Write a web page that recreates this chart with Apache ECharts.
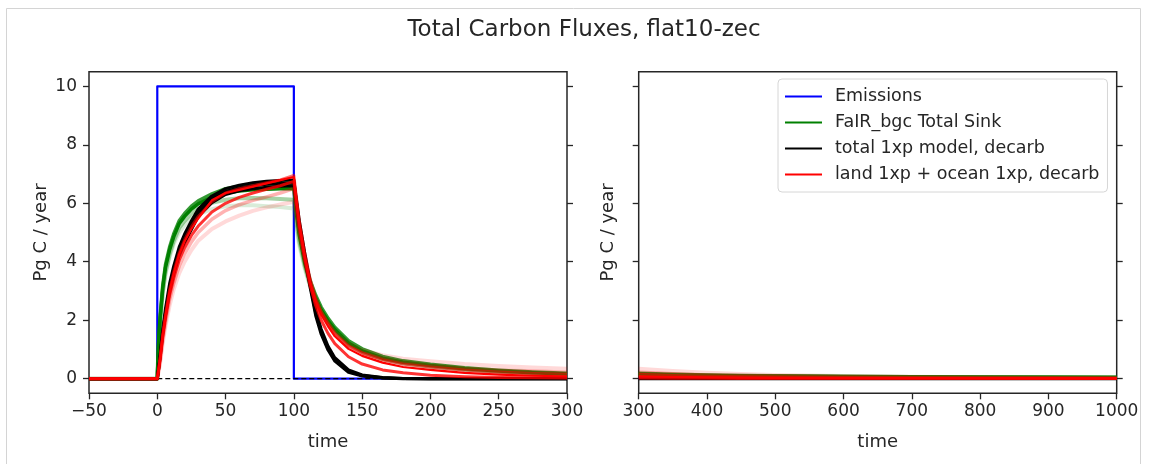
<!DOCTYPE html>
<html>
<head>
<meta charset="utf-8">
<script src="https://cdn.jsdelivr.net/npm/echarts@6/dist/echarts.min.js"></script>
<style>
html,body{margin:0;padding:0;background:#fff;}
#chart{width:1149px;height:464px;}
</style>
</head>
<body>
<div id="chart"></div>
<script>
// ---------- data ----------
const TITLE = 'Total Carbon Fluxes, flat10-zec';
const Y_TICKS = [0, 2, 4, 6, 8, 10];

// emissions step
const EMIS_T = [-50, 0, 0, 100, 100, 300];
const EMIS_V = [0, 0, 10, 10, 0, 0];
const EMIS_T_R = [300, 1000];
const EMIS_V_R = [0, 0];

// time grids
const T_LEFT = [-50, 0, 1, 2, 4, 6, 9, 12, 16, 20, 25, 30, 40, 50, 60, 70, 80, 90, 100, 102, 104, 108, 112, 116, 120, 125, 130, 140, 150, 165, 180, 200, 225, 250, 275, 300];
const T_RIGHT = [300, 350, 400, 450, 500, 600, 700, 800, 900, 1000];

// FaIR_bgc total sink ensemble (left panel)
const green1 = [0,0,1.2,2.0,3.1,3.8,4.4,4.85,5.3,5.55,5.8,5.98,6.2,6.35,6.42,6.46,6.48,6.5,6.5,5.6,4.9,3.95,3.25,2.75,2.35,1.98,1.68,1.22,0.95,0.7,0.56,0.45,0.34,0.26,0.2,0.16];
const green2 = [0,0,1.3,2.1,3.2,3.9,4.5,4.95,5.4,5.65,5.9,6.08,6.32,6.5,6.58,6.63,6.66,6.68,6.7,5.75,5.0,4.05,3.35,2.85,2.45,2.07,1.76,1.3,1.02,0.76,0.61,0.49,0.37,0.29,0.23,0.19];
const green3 = [0,0,1.15,1.9,2.95,3.65,4.25,4.7,5.15,5.4,5.65,5.82,6.02,6.12,6.17,6.18,6.17,6.15,6.12,5.3,4.7,3.85,3.2,2.7,2.3,1.93,1.63,1.18,0.92,0.67,0.53,0.42,0.31,0.24,0.18,0.14];
const green4 = [0,0,1.1,1.85,2.9,3.55,4.15,4.6,5.0,5.25,5.48,5.62,5.8,5.9,5.93,5.93,5.9,5.87,5.82,5.1,4.55,3.75,3.12,2.65,2.27,1.9,1.6,1.16,0.9,0.66,0.52,0.41,0.3,0.23,0.18,0.14];

// total 1xp model, decarb (left panel)
const black1 = [0,0,0.35,0.74,1.6,2.25,3.1,3.7,4.35,4.8,5.25,5.68,6.15,6.4,6.53,6.6,6.65,6.68,6.7,6.0,5.3,4.2,3.2,2.25,1.6,1.05,0.65,0.26,0.11,0.03,0.01,0,0,0,0,0];
const black2 = [0,0,0.38,0.8,1.7,2.4,3.25,3.85,4.5,4.95,5.4,5.8,6.25,6.5,6.62,6.7,6.75,6.78,6.8,6.1,5.4,4.3,3.3,2.35,1.7,1.12,0.72,0.3,0.13,0.04,0.01,0,0,0,0,0];
const black3 = [0,0,0.32,0.68,1.5,2.15,2.95,3.55,4.2,4.65,5.1,5.55,6.02,6.3,6.43,6.5,6.55,6.58,6.6,5.9,5.2,4.1,3.1,2.15,1.52,0.98,0.6,0.22,0.09,0.02,0,0,0,0,0,0];

// land 1xp + ocean 1xp, decarb (left panel)
const red1 = [0,0,0.3,0.65,1.5,2.15,3.0,3.6,4.25,4.7,5.12,5.48,6.1,6.35,6.46,6.57,6.68,6.79,6.9,6.1,5.3,4.2,3.3,2.65,2.2,1.8,1.45,1.02,0.78,0.55,0.4,0.3,0.2,0.14,0.1,0.08];
const red2 = [0,0,0.33,0.7,1.55,2.2,3.05,3.65,4.3,4.75,5.2,5.55,6.05,6.35,6.5,6.6,6.7,6.8,6.95,6.15,5.4,4.3,3.4,2.75,2.3,1.9,1.55,1.12,0.88,0.65,0.5,0.4,0.3,0.23,0.18,0.15];
const red3 = [0,0,0.27,0.56,1.32,1.92,2.7,3.25,3.85,4.27,4.68,5.0,5.45,5.75,5.95,6.1,6.22,6.35,6.5,5.75,5.05,4.05,3.2,2.62,2.2,1.82,1.5,1.1,0.88,0.68,0.55,0.45,0.36,0.3,0.26,0.22];
const red4 = [0,0,0.24,0.5,1.2,1.8,2.5,3.05,3.6,4.0,4.4,4.72,5.12,5.38,5.58,5.74,5.86,5.96,6.05,5.45,4.9,3.95,3.2,2.65,2.25,1.9,1.6,1.2,0.98,0.8,0.68,0.6,0.5,0.43,0.38,0.34];
const red5 = [0,0,0.3,0.62,1.42,2.05,2.85,3.42,4.05,4.48,4.9,5.22,5.7,6.0,6.2,6.35,6.48,6.6,6.75,5.95,5.2,4.1,3.2,2.5,2.0,1.55,1.2,0.75,0.5,0.3,0.2,0.12,0.07,0.04,0.03,0.02];

// right panel tails
const green1R = [0.16,0.13,0.11,0.095,0.085,0.07,0.06,0.05,0.045,0.04];
const green2R = [0.19,0.155,0.13,0.11,0.1,0.08,0.068,0.058,0.05,0.045];
const green3R = [0.14,0.115,0.1,0.088,0.078,0.064,0.054,0.046,0.04,0.035];
const green4R = [0.14,0.11,0.095,0.083,0.074,0.06,0.05,0.043,0.037,0.033];
const blackR  = [0,0,0,0,0,0,0,0,0,0];
const red1R = [0.08,0.06,0.045,0.035,0.03,0.022,0.017,0.014,0.012,0.01];
const red2R = [0.15,0.11,0.085,0.07,0.058,0.042,0.032,0.026,0.022,0.019];
const red3R = [0.22,0.17,0.13,0.105,0.088,0.063,0.048,0.038,0.031,0.026];
const red4R = [0.34,0.26,0.2,0.16,0.13,0.09,0.067,0.052,0.042,0.035];
const red5R = [0.02,0.015,0.012,0.01,0.008,0.006,0.005,0.004,0.003,0.003];

const NAMES = ['Emissions', 'FaIR_bgc Total Sink', 'total 1xp model, decarb', 'land 1xp + ocean 1xp, decarb'];
const COLORS = ['#0000ff', '#008000', '#000000', '#ff0000'];

// ---------- build ----------
const TXT = '#262626';
const FONT = "'DejaVu Sans', sans-serif";

function pairs(ts, vs) { return ts.map((t, i) => [t, vs[i]]); }

function lineSeries(name, color, data, panel, opts) {
  opts = opts || {};
  return {
    type: 'line', name: name, data: data,
    xAxisIndex: panel, yAxisIndex: panel * 2,
    symbol: 'none', animation: false, silent: true,
    color: color,
    lineStyle: { color: color, width: opts.width || 2, opacity: opts.opacity == null ? 1 : opts.opacity, type: opts.type || 'solid', join: 'round' },
    z: opts.z || 2
  };
}

const series = [];
// emissions
series.push(lineSeries(NAMES[0], COLORS[0], pairs(EMIS_T, EMIS_V), 0, { width: 2.2 }));
series.push(lineSeries(NAMES[0], COLORS[0], pairs(EMIS_T_R, EMIS_V_R), 1, { width: 2.2 }));
// zero dashed
series.push(lineSeries('zero', '#000', [[0, 0], [300, 0]], 0, { width: 1.2, type: [5, 3] }));
series.push(lineSeries('zero', '#000', [[300, 0], [1000, 0]], 1, { width: 1.2, type: [5, 3] }));

const GL = [green4, green3, green2, green1];
const GR = [green4R, green3R, green2R, green1R];
const GOP = [0.15, 0.35, 0.8, 1];
const GW = [4, 4, 3.5, 3.5];
GL.forEach((g, i) => series.push(lineSeries(NAMES[1], COLORS[1], pairs(T_LEFT, g), 0, { width: GW[i], opacity: GOP[i] })));
GR.forEach((g, i) => series.push(lineSeries(NAMES[1], COLORS[1], pairs(T_RIGHT, g), 1, { width: GW[i], opacity: GOP[i] })));

const KL = [black3, black2, black1];
KL.forEach((k) => series.push(lineSeries(NAMES[2], COLORS[2], pairs(T_LEFT, k), 0, { width: 3, opacity: 1 })));
series.push(lineSeries(NAMES[2], COLORS[2], pairs(T_RIGHT, blackR), 1, { width: 3 }));

const RL = [red4, red3, red2, red5, red1];
const RR = [red4R, red3R, red2R, red5R, red1R];
const ROP = [0.15, 0.3, 0.55, 0.8, 1];
const RW = [4, 3.5, 3, 3, 2.2];
RL.forEach((r, i) => series.push(lineSeries(NAMES[3], COLORS[3], pairs(T_LEFT, r), 0, { width: RW[i], opacity: ROP[i] })));
RR.forEach((r, i) => series.push(lineSeries(NAMES[3], COLORS[3], pairs(T_RIGHT, r), 1, { width: RW[i], opacity: ROP[i] })));

function xAx(idx, min, max, interval) {
  return {
    type: 'value', gridIndex: idx, min: min, max: max, interval: interval,
    name: 'time', nameLocation: 'middle', nameGap: 40,
    nameTextStyle: { fontSize: 18, color: TXT, fontFamily: FONT },
    axisLine: { show: false, onZero: false },
    axisTick: { show: true, length: 6, lineStyle: { color: TXT, width: 1.3 } },
    axisLabel: { show: true, margin: 10, fontSize: 17, color: TXT, fontFamily: FONT,
      formatter: v => v < 0 ? '\u2212' + Math.abs(v) : String(v) },
    splitLine: { show: false }
  };
}
function yAx(idx, pos, labels, withName, gap) {
  return {
    type: 'value', gridIndex: idx, position: pos, min: -0.5, max: 10.5,
    name: withName ? 'Pg C / year' : '', nameLocation: 'middle', nameGap: gap || 40,
    nameTextStyle: { fontSize: 18, color: TXT, fontFamily: FONT },
    axisLine: { show: false, onZero: false },
    axisTick: { show: true, length: 6, customValues: Y_TICKS, lineStyle: { color: TXT, width: 1.3 } },
    axisLabel: { show: labels, margin: 12, fontSize: 17, color: TXT, fontFamily: FONT, customValues: Y_TICKS },
    splitLine: { show: false }
  };
}

const option = {
  backgroundColor: '#fff',
  animation: false,
  title: {
    text: TITLE, left: 579, top: 14, textAlign: 'center',
    textStyle: { fontSize: 23, fontWeight: 'normal', color: TXT, fontFamily: FONT }
  },
  graphic: [{
    type: 'rect', shape: { x: 6.5, y: 8.5, width: 1134, height: 470 },
    style: { fill: 'none', stroke: '#d4d4d4', lineWidth: 1 }, silent: true, z: -10
  }],
  grid: [
    { left: 89, top: 71.7, width: 478, height: 321.6, show: true, borderColor: TXT, borderWidth: 1.5, backgroundColor: 'transparent' },
    { left: 638.7, top: 71.7, width: 478, height: 321.6, show: true, borderColor: TXT, borderWidth: 1.5, backgroundColor: 'transparent' }
  ],
  xAxis: [xAx(0, -50, 300, 50), xAx(1, 300, 1000, 100)],
  yAxis: [yAx(0, 'left', true, true, 39), yAx(0, 'right', false, false), yAx(1, 'left', false, true, 21), yAx(1, 'right', false, false)],
  legend: {
    orient: 'vertical', left: 778, top: 79,
    padding: [7, 8, 7, 7], itemGap: 5, itemWidth: 37, itemHeight: 2,
    backgroundColor: '#fff', borderColor: '#d6d6d6', borderWidth: 1, borderRadius: 4,
    selectedMode: false,
    textStyle: { fontSize: 17.5, color: TXT, fontFamily: FONT, padding: [0, 0, 0, 8], lineHeight: 21 },
    data: NAMES.map((n, i) => ({ name: n, icon: 'rect', itemStyle: { color: COLORS[i], opacity: 1 } }))
  },
  series: series
};

const chart = echarts.init(document.getElementById('chart'), null, { renderer: 'canvas' });
chart.setOption(option);
</script>
</body>
</html>
